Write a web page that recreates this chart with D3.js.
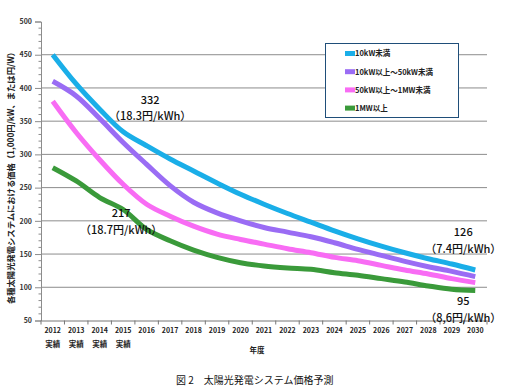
<!DOCTYPE html>
<html><head><meta charset="utf-8">
<script src="https://cdn.jsdelivr.net/npm/d3@7"></script>
<style>body{margin:0;background:#fff}svg{display:block}text{font-family:"Noto Sans CJK JP","Noto Sans",sans-serif}</style>
</head><body><svg id="c" width="522" height="391"></svg>
<script>
const years = ["2012","2013","2014","2015","2016","2017","2018","2019","2020","2021","2022","2023","2024","2025","2026","2027","2028","2029","2030"];
const actualYears = ["2012","2013","2014","2015"];
const seriesNames = ["10kW未満","10kW以上～50kW未満","50kW以上～1MW未満","1MW以上"];
const s10kw   = [450,406,368,334,313,293,275,257,240,225,211,198,185,173,162,152,143,135,126];
const s50kw   = [410,388,354,318,285,253,228,212,200,190,183,176,167,157,148,139,131,124,116];
const s1mw    = [380,333,292,255,225,207,192,180,172,165,158,152,145,140,133,126,120,113,107];
const sOver   = [280,260,235,217,187,170,156,145,137,132,129,127,122,118,113,108,102,97,95];
const colors = ["#1aaee8","#9a6cf4","#f86cf4","#3a9a3a"];
const yTicks = [50,100,150,200,250,300,350,400,450,500];
const notes = [
  {year:"2015", value:332, text:["332","（18.3円/kWh）"], dx:27, dy:[-29,-13]},
  {year:"2015", value:217, text:["217","（18.7円/kWh）"], dx:-2, dy:[7,24]},
  {year:"2030", value:126, text:["126","（7.4円/kWh）"], dx:-12, dy:[-34,-17]},
  {year:"2030", value:95,  text:["95","（8,6円/kWh）"], dx:-12, dy:[14,31]}
];
const yTitle = "各種太陽光発電システムにおける価格（1,000円/kW、または円/W）";
const xTitle = "年度";
const caption = "図 2　太陽光発電システム価格予測";

const svg = d3.select("#c");
const L = 41, R = 487, T = 21.5, B = 320.5;
const x = d3.scaleBand().domain(years).range([L, R]);
const y = d3.scaleLinear().domain([50, 500]).range([B, T]);

// gridlines
svg.append("g").selectAll("line").data(yTicks.filter(v => v > 50 && v < 500)).join("line")
  .attr("x1", L).attr("x2", R).attr("y1", d => y(d)).attr("y2", d => y(d))
  .attr("stroke", "#8c8c8c").attr("stroke-width", 1);

// y axis
const yAxis = svg.append("g").attr("transform", `translate(${L},0)`)
  .call(d3.axisLeft(y).tickValues(yTicks).tickSize(6).tickPadding(3));
yAxis.select(".domain").attr("stroke", "#8c8c8c");
yAxis.selectAll(".tick line").attr("stroke", "#8c8c8c");
yAxis.selectAll("text").attr("font-size", 7).attr("fill", "#333").attr("font-weight", "bold");
// minor ticks
svg.append("g").selectAll("line").data(d3.range(60, 500, 10).filter(v => v % 50)).join("line")
  .attr("x1", L - 2.5).attr("x2", L).attr("y1", d => y(d)).attr("y2", d => y(d))
  .attr("stroke", "#8c8c8c");

// x axis
const xAxis = svg.append("g").attr("transform", `translate(0,${B})`)
  .call(d3.axisBottom(x).tickSize(0).tickPadding(8));
xAxis.select(".domain").attr("stroke", "#777");
xAxis.selectAll("text").attr("font-size", 7).attr("fill", "#222").attr("font-weight", "bold");
svg.append("g").selectAll("line").data(years).join("line")
  .attr("x1", (d,i) => L + x.step()*(i+1)).attr("x2", (d,i) => L + x.step()*(i+1))
  .attr("y1", B).attr("y2", B + 4).attr("stroke", "#777");
svg.append("line").attr("x1", L).attr("x2", L).attr("y1", B).attr("y2", B+4).attr("stroke","#777");
svg.append("g").selectAll("text").data(actualYears).join("text")
  .attr("x", d => x(d) + x.bandwidth()/2).attr("y", B + 26)
  .attr("text-anchor", "middle").attr("font-size", 7.5).attr("font-weight", "bold").attr("fill", "#222")
  .text("実績");

// lines
const allSeries = [s10kw, s50kw, s1mw, sOver];
const line = d3.line().x((d,i) => x(years[i]) + x.bandwidth()/2).y(d => y(d)).curve(d3.curveCatmullRom.alpha(0.5));
svg.append("g").selectAll("path").data(allSeries).join("path")
  .attr("d", d => line(d)).attr("fill", "none")
  .attr("stroke", (d,i) => colors[i]).attr("stroke-width", 5).attr("stroke-linejoin", "round");

// annotations
notes.forEach(n => {
  const cx = x(n.year) + x.bandwidth()/2 + n.dx, cy = y(n.value);
  n.text.forEach((t, k) => {
    svg.append("text").attr("x", cx).attr("y", cy + n.dy[k])
      .attr("text-anchor", "middle").attr("font-size", 11).attr("font-weight", 500).attr("fill", "#111")
      .text(t);
  });
});

// legend
const lg = svg.append("g");
lg.append("rect").attr("x", 325.5).attr("y", 43.5).attr("width", 133).attr("height", 74)
  .attr("fill", "#fff").attr("stroke", "#1f4e79").attr("stroke-width", 1);
seriesNames.forEach((s, i) => {
  const yy = 53.5 + i * 18.2;
  lg.append("rect").attr("x", 345).attr("y", yy - 2.5).attr("width", 10).attr("height", 5).attr("fill", colors[i]);
  lg.append("text").attr("x", 355).attr("y", yy + 2.8).attr("font-size", 7.5).attr("font-weight", "bold")
    .attr("fill", "#222").text(s);
});

// titles
svg.append("text").attr("transform", "translate(14,176) rotate(-90)").attr("text-anchor", "middle")
  .attr("font-size", 8.3).attr("font-weight", "bold").attr("fill", "#222").text(yTitle);
svg.append("text").attr("x", 257).attr("y", 353).attr("text-anchor", "middle")
  .attr("font-size", 7.5).attr("font-weight", "bold").attr("fill", "#222").text(xTitle);
svg.append("text").attr("x", 176).attr("y", 384).attr("font-size", 10).attr("fill", "#111").text(caption);
</script></body></html>
